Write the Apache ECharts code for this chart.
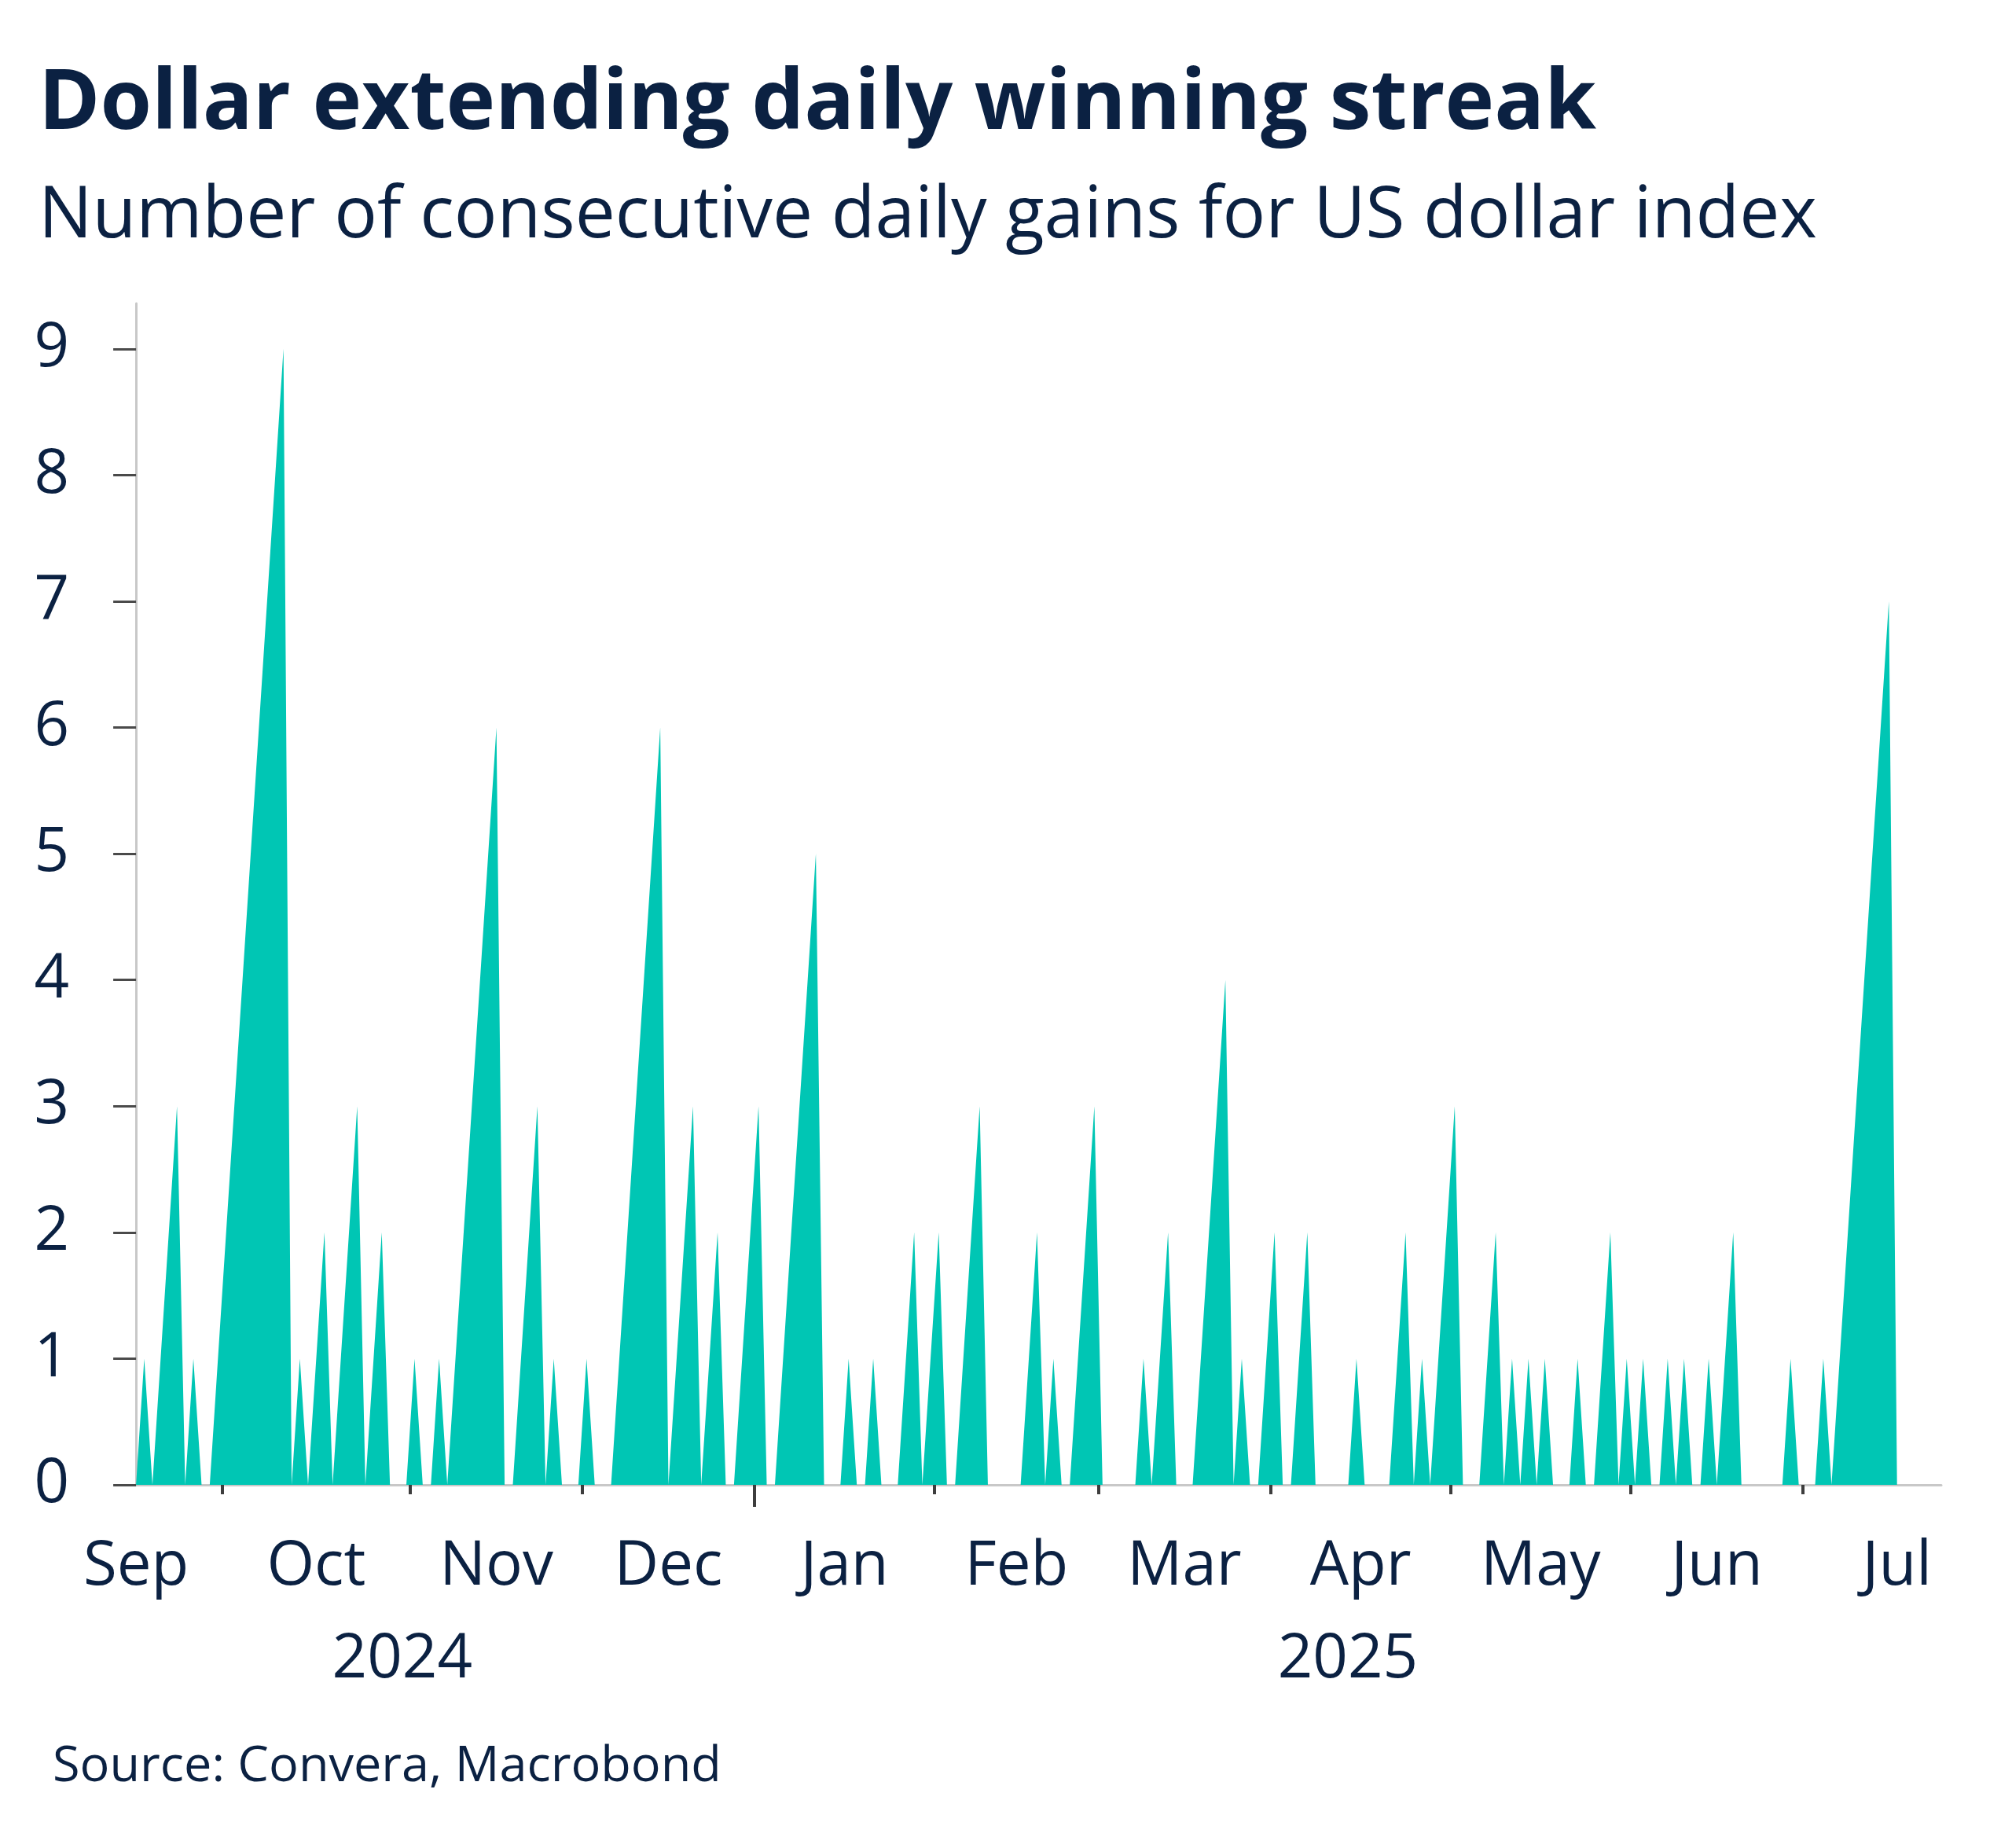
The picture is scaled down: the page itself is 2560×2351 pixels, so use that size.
<!DOCTYPE html>
<html>
<head>
<meta charset="utf-8">
<title>Dollar extending daily winning streak</title>
<script src="https://cdn.jsdelivr.net/npm/echarts@6/dist/echarts.min.js"></script>
<style>
  html, body { margin: 0; padding: 0; background: #fff; }
  #chart { width: 2560px; height: 2351px; }
</style>
</head>
<body>
<div id="chart"></div>
<script type="text/javascript">
	// consecutive daily gains of the US dollar index, one value per trading day,
	// first value = Mon 16 Sep 2024
	var streak = [
		0, 1, 0, 1, 2, 3, 0, 1, 0, 0,
		1, 2, 3, 4, 5, 6, 7, 8, 9, 0,
		1, 0, 1, 2, 0, 1, 2, 3, 0, 1,
		2, 0, 0, 0, 1, 0, 0, 1, 0, 1,
		2, 3, 4, 5, 6, 0, 0, 1, 2, 3,
		0, 1, 0, 0, 0, 1, 0, 0, 0, 1,
		2, 3, 4, 5, 6, 0, 1, 2, 3, 0,
		1, 2, 0, 0, 1, 2, 3, 0, 0, 1,
		2, 3, 4, 5, 0, 0, 0, 1, 0, 0,
		1, 0, 0, 0, 1, 2, 0, 1, 2, 0,
		0, 1, 2, 3, 0, 0, 0, 0, 0, 1,
		2, 0, 1, 0, 0, 1, 2, 3, 0, 0,
		0, 0, 0, 1, 0, 1, 2, 0, 0, 0,
		1, 2, 3, 4, 0, 1, 0, 0, 1, 2,
		0, 0, 1, 2, 0, 0, 0, 0, 0, 1,
		0, 0, 0, 0, 1, 2, 0, 1, 0, 1,
		2, 3, 0, 0, 0, 1, 2, 0, 1, 0,
		1, 0, 1, 0, 0, 0, 1, 0, 0, 1,
		2, 0, 1, 0, 1, 0, 0, 1, 0, 1,
		0, 0, 1, 0, 1, 2, 0, 0, 0, 0,
		0, 0, 1, 0, 0, 0, 1, 0, 1, 2,
		3, 4, 5, 6, 7, 0
	];
	// month labels and number of trading days in each month (Sep 2024 .. Jul 2025)
	var months = [ 'Sep', 'Oct', 'Nov', 'Dec', 'Jan', 'Feb', 'Mar', 'Apr', 'May', 'Jun', 'Jul' ];
	var monthDays = [ 21, 23, 21, 21, 22, 20, 21, 22, 22, 21, 23 ];
	var years = [ '2024', '2025' ];
	var yTicks = [ 0, 1, 2, 3, 4, 5, 6, 7, 8, 9 ];

	var navy = '#0b2142';
	var font = 'Open Sans';
	var xMin = -2.6, xMax = 220.4;

	// month boundaries on the trading-day index scale (Sep 2024 starts 10 days before index 0)
	var bounds = [ -10.5 ];
	for (var i = 0; i < monthDays.length; i++) {
		bounds.push(bounds[i] + monthDays[i]);
	}
	var monthTicks = bounds.filter(function(b) { return b > xMin && b < xMax; });
	var monthMid = [], midName = {};
	for (var m = 0; m < months.length; m++) {
		var c = (bounds[m] + bounds[m + 1]) / 2;
		monthMid.push(c);
		midName[c] = months[m];
	}
	var yearBreak = bounds[4];
	var yearMid = [ (bounds[0] + yearBreak) / 2, (yearBreak + xMax) / 2 ];
	var yearName = {};
	yearName[yearMid[0]] = years[0];
	yearName[yearMid[1]] = years[1];

	var seriesData = streak.map(function(v, idx) { return [ idx, v ]; });

	var option = {
		animation : false,
		backgroundColor : '#ffffff',
		title : [ {
			text : 'Dollar extending daily winning streak',
			left : 44,
			top : 76,
			textStyle : { fontFamily : font, fontWeight : 'bold', fontSize : 106, color : navy }
		}, {
			text : 'Number of consecutive daily gains for US dollar index',
			left : 44,
			top : 226,
			textStyle : { fontFamily : font, fontWeight : 'normal', fontSize : 91, color : navy }
		}, {
			text : 'Source: Convera, Macrobond',
			left : 62,
			top : 2212,
			textStyle : { fontFamily : font, fontWeight : 'normal', fontSize : 63, color : navy }
		} ],
		grid : { left : 146, right : 90, top : 386, bottom : 462 },
		xAxis : [ {
			type : 'value',
			min : xMin,
			max : xMax,
			position : 'bottom',
			splitLine : { show : false },
			axisLine : { show : true, onZero : false, lineStyle : { color : '#c8c8c8', width : 3 } },
			axisTick : { show : true, customValues : monthTicks, length : 12, lineStyle : { color : '#3d3d3d', width : 4 } },
			axisLabel : {
				customValues : monthMid,
				margin : 66,
				fontFamily : font,
				fontSize : 78,
				color : navy,
				formatter : function(v) { return midName[v] || ''; }
			}
		}, {
			type : 'value',
			min : xMin,
			max : xMax,
			position : 'bottom',
			splitLine : { show : false },
			axisLine : { show : false },
			axisTick : { show : true, customValues : [ yearBreak ], length : 28, lineStyle : { color : '#3d3d3d', width : 4 } },
			axisLabel : {
				customValues : yearMid,
				margin : 184,
				fontFamily : font,
				fontSize : 78,
				color : navy,
				formatter : function(v) { return yearName[v] || ''; }
			}
		} ],
		yAxis : {
			type : 'value',
			min : 0,
			max : 9.36,
			interval : 1,
			splitLine : { show : false },
			axisLine : { show : true, lineStyle : { color : '#c8c8c8', width : 3 } },
			axisTick : { show : true, customValues : yTicks, length : 29, lineStyle : { color : '#4a4a4a', width : 3 } },
			axisLabel : {
				customValues : yTicks,
				margin : 58,
				fontFamily : font,
				fontSize : 78,
				color : navy
			}
		},
		series : [ {
			name : 'Consecutive daily gains',
			type : 'line',
			xAxisIndex : 0,
			data : seriesData,
			showSymbol : false,
			symbol : 'none',
			lineStyle : { width : 0, opacity : 0 },
			areaStyle : { color : '#00c6b4', opacity : 1 }
		} ]
	};

	var chart = echarts.init(document.getElementById('chart'));
	chart.setOption(option);
</script>
</body>
</html>
